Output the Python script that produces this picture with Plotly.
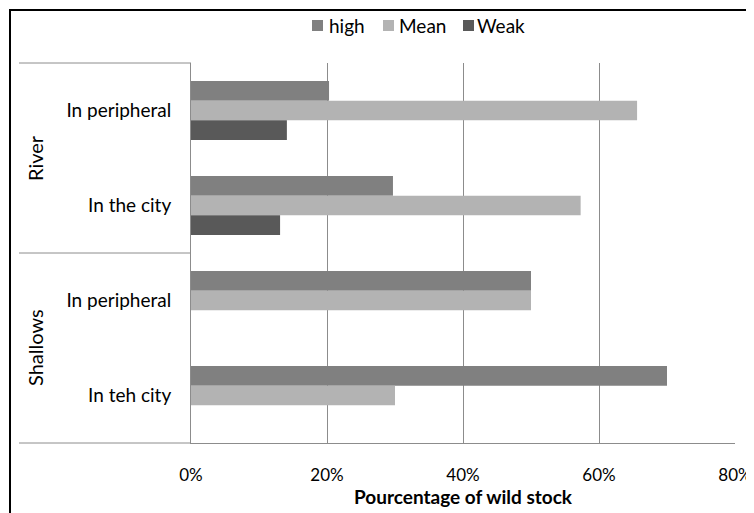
"""Wild stock share by site, grouped horizontal bars."""
import plotly.graph_objects as go

# category ids (unique) and what is shown on the axis
categories = ["River|In peripheral", "River|In the city",
              "Shallows|In peripheral", "Shallows|In teh city"]
category_labels = ["In peripheral", "In the city", "In peripheral", "In teh city"]
groups = ["River", "Shallows"]

series = ["high", "Mean", "Weak"]
high = [0.203, 0.297, 0.50, 0.70]
mean = [0.656, 0.573, 0.50, 0.30]
weak = [0.141, 0.131, None, None]

x_ticks = [0, 0.2, 0.4, 0.6, 0.8]

FONT = "Lato, 'Open Sans', sans-serif"
GRID = "#8c8c8c"
COLORS = ["#808080", "#b3b3b3", "#595959"]

# plot area in window pixels: x 191..735, y 63..443
PX0, PW, PY1, PH = 191, 544, 443, 380


def px(x):
    return (x - PX0) / PW


def py(y):
    return (PY1 - y) / PH


fig = go.Figure()
for name, vals, color in zip(series, [high, mean, weak], COLORS):
    fig.add_trace(go.Bar(
        y=categories, x=vals, name=name, orientation="h",
        marker=dict(color=color, line=dict(width=0)),
    ))

# outer chart frame (runs off the right/bottom edge like the original)
fig.add_shape(type="rect", xref="paper", yref="paper",
              x0=px(10), x1=1.2, y0=-0.35, y1=py(10),
              line=dict(color="black", width=2))

# category separator lines on the left
for yy in [0, 0.5, 1]:
    fig.add_shape(type="line", xref="paper", yref="paper",
                  x0=px(19), x1=0, y0=yy, y1=yy,
                  line=dict(color=GRID, width=1))

# rotated group labels
for i, g in enumerate(groups):
    fig.add_annotation(text=g, xref="paper", yref="paper",
                       x=px(35), y=0.75 - 0.5 * i, showarrow=False,
                       xanchor="center", yanchor="middle",
                       textangle=-90, font=dict(size=20, color="black"))

# legend drawn by hand to match the spacing of the original
for name, color, sq_x, tx in zip(series, COLORS, [312, 383, 463], [327, 397, 475]):
    fig.add_shape(type="rect", xref="paper", yref="paper",
                  x0=px(sq_x), x1=px(sq_x + 11), y0=py(31), y1=py(20),
                  fillcolor=color, line=dict(width=0))
    fig.add_annotation(text=name, xref="paper", yref="paper",
                       x=px(tx), y=py(25.5), xanchor="left", yanchor="middle",
                       showarrow=False, font=dict(size=19, color="black"))

# page body has an 8px margin, so the figure is 8px smaller and shifted
fig.update_layout(
    width=746, height=505,
    margin=dict(l=183, r=19, t=55, b=70, autoexpand=False),
    paper_bgcolor="white", plot_bgcolor="white",
    font=dict(family=FONT, size=19, color="black"),
    barmode="group", bargap=0.38, bargroupgap=0,
    showlegend=False,
    xaxis=dict(
        range=[0, 0.8], tickvals=x_ticks, tickformat=".0%",
        tickfont=dict(size=17),
        showgrid=True, gridcolor=GRID, gridwidth=1,
        showline=True, linecolor=GRID, linewidth=1,
        zeroline=False, ticks="", ticklabelstandoff=17,
        title=dict(text="<b>Pourcentage of wild stock</b>",
                   font=dict(size=19), standoff=5),
        automargin=False,
    ),
    yaxis=dict(
        categoryorder="array", categoryarray=categories,
        tickvals=categories, ticktext=category_labels,
        autorange="reversed",
        showline=True, linecolor=GRID, linewidth=1,
        showgrid=False, ticks="", ticklabelstandoff=15,
        automargin=False,
    ),
)

fig.write_html("out.html")
